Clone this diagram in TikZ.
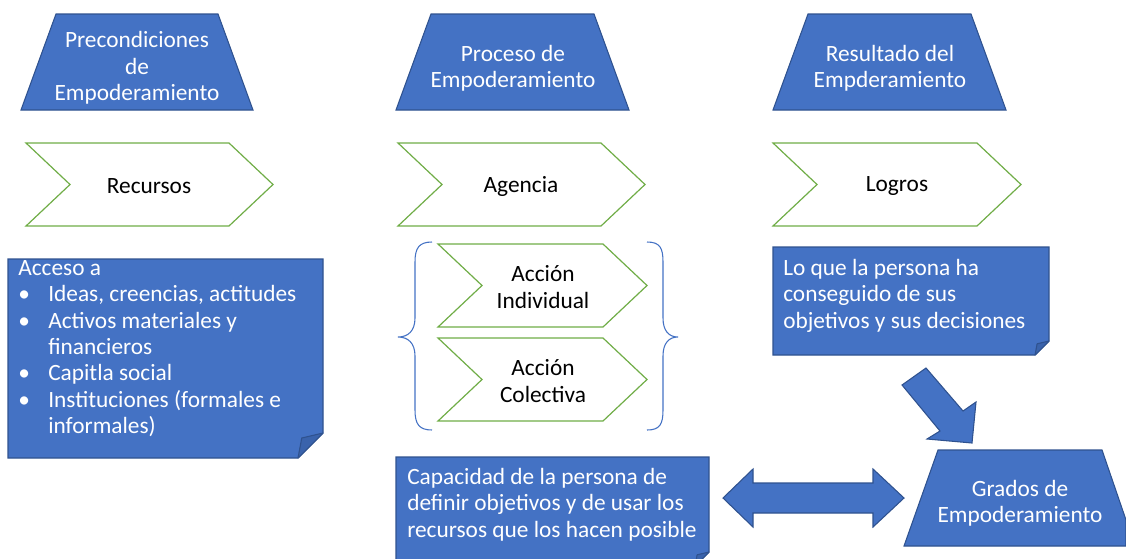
\documentclass[tikz,border=0pt]{standalone}
\usepackage{fontspec}
\setmainfont{Carlito}
\usepackage{tikz}
\usetikzlibrary{calc}

\definecolor{azul}{HTML}{4472C4}
\definecolor{azulborde}{HTML}{2F528F}
\definecolor{azulpliegue}{HTML}{3A63AC}
\definecolor{verde}{HTML}{70AD47}

\tikzset{
    trapecio/.style={fill=azul,draw=azulborde,line width=0.8pt},
    chevronverde/.style={fill=white,draw=verde,line width=0.9pt},
    nota/.style={fill=azul,draw=azulborde,line width=0.8pt},
    pliegue/.style={fill=azulpliegue,draw=azulborde,line width=0.8pt,line join=round},
    llave/.style={draw=azul,line width=0.8pt},
    textoblanco/.style={text=white,inner sep=0pt,font=\fontsize{17.5}{19.8}\selectfont},
    textonegro/.style={text=black,inner sep=0pt,align=center,font=\fontsize{17.5}{19.8}\selectfont},
}

% chevron: x, y of top left corner, width up to the tip
\newcommand{\chevron}[3]{\draw[chevronverde] (#1,#2) -- ++(#3,0) -- ++(44,41.5) -- ++(-44,41.5) -- ++(-#3,0) -- ++(44,-41.5) -- cycle;}
% note with folded corner: x1, y1, x2, y2, fold
\newcommand{\notabox}[5]{
    \draw[nota] (#1,#2) -- (#3,#2) -- (#3,#4-#5) -- (#3-#5,#4) -- (#1,#4) -- cycle;
    \draw[pliegue] (#3,#4-#5) -- (#3-0.85*#5,#4-0.8*#5) -- (#3-#5,#4) -- cycle;
}
\newcommand{\bul}{\makebox[22.5pt][l]{\textbullet}}

\begin{document}
\begin{tikzpicture}[x=0.75pt,y=-0.75pt]
    \useasboundingbox (0,0) rectangle (1126,558);

    % top line
    \draw[trapecio] (21,110) -- (56,14) -- (218,14) -- (253,110) -- cycle;
    \draw[trapecio] (396,110) -- (431,14) -- (594,14) -- (629,110) -- cycle;
    \draw[trapecio] (773,110) -- (808,14) -- (971,14) -- (1006,110) -- cycle;
    \node[textoblanco,align=center] (precond) at (137,68) {Precondiciones\\de\\Empoderamiento};
    \node[textoblanco,align=center] (proceso) at (513,68) {Proceso de\\Empoderamiento};
    \node[textoblanco,align=center] (resultado) at (890,68) {Resultado del\\Empderamiento};

    % sec line
    \chevron{26}{143}{203}
    \chevron{398}{143}{203}
    \chevron{773}{143}{204}
    \node[textonegro] (recursos) at (149,186) {Recursos};
    \node[textonegro] (agencia) at (521,186) {Agencia};
    \node[textonegro] (logros) at (897,186) {Logros};

    % acciones
    \chevron{438}{244}{165}
    \chevron{438}{338}{165}
    \node[textonegro] (individual) at (543,287) {Acción\\Individual};
    \node[textonegro] (colectiva) at (543,381) {Acción\\Colectiva};
    \draw[llave] (432,242) .. controls (419,242) and (415,248) .. (415,262) -- (415,318)
        .. controls (415,331) and (408,337) .. (398,337) .. controls (408,337) and (415,343) .. (415,356)
        -- (415,410) .. controls (415,424) and (419,430) .. (432,430);
    \draw[llave] (647,242) .. controls (660,242) and (663,248) .. (663,262) -- (663,318)
        .. controls (663,331) and (669,337) .. (678,337) .. controls (669,337) and (663,343) .. (663,356)
        -- (663,410) .. controls (663,424) and (660,430) .. (647,430);

    % notes
    \notabox{8}{259}{323}{458}{25}
    \node[textoblanco,align=left,anchor=north west] (acceso) at (18,260)
        {Acceso a\\\bul Ideas, creencias, actitudes\\\bul Activos materiales y\\\hspace*{22.5pt}financieros\\\bul Capitla social\\\bul Instituciones (formales e\\\hspace*{22.5pt}informales)};
    \notabox{773}{247}{1049}{355}{14}
    \node[textoblanco,align=left,anchor=north west] (loque) at (783,259)
        {Lo que la persona ha\\conseguido de sus\\objetivos y sus decisiones};
    \notabox{396}{457}{709}{566}{14}
    \node[textoblanco,align=left,anchor=north west] (capacidad) at (407,468)
        {Capacidad de la persona de\\definir objetivos y de usar los\\recursos que los hacen posible};

    % arrows
    \draw[nota,line join=miter] (902,385) -- (926,368) -- (963,411) -- (976,402) -- (972,443) -- (927,439) -- (940,431) -- cycle;
    \draw[nota,line join=miter] (723,498) -- (753,469) -- (753,483) -- (873,483) -- (873,469) -- (904,498)
        -- (873,527) -- (873,513) -- (753,513) -- (753,527) -- cycle;

    % grados
    \draw[trapecio] (904,546) -- (938,450) -- (1102,450) -- (1126,520) -- (1126,546) -- cycle;
    \node[textoblanco,align=center] (grados) at (1020,503) {Grados de\\Empoderamiento};
\end{tikzpicture}
\end{document}
